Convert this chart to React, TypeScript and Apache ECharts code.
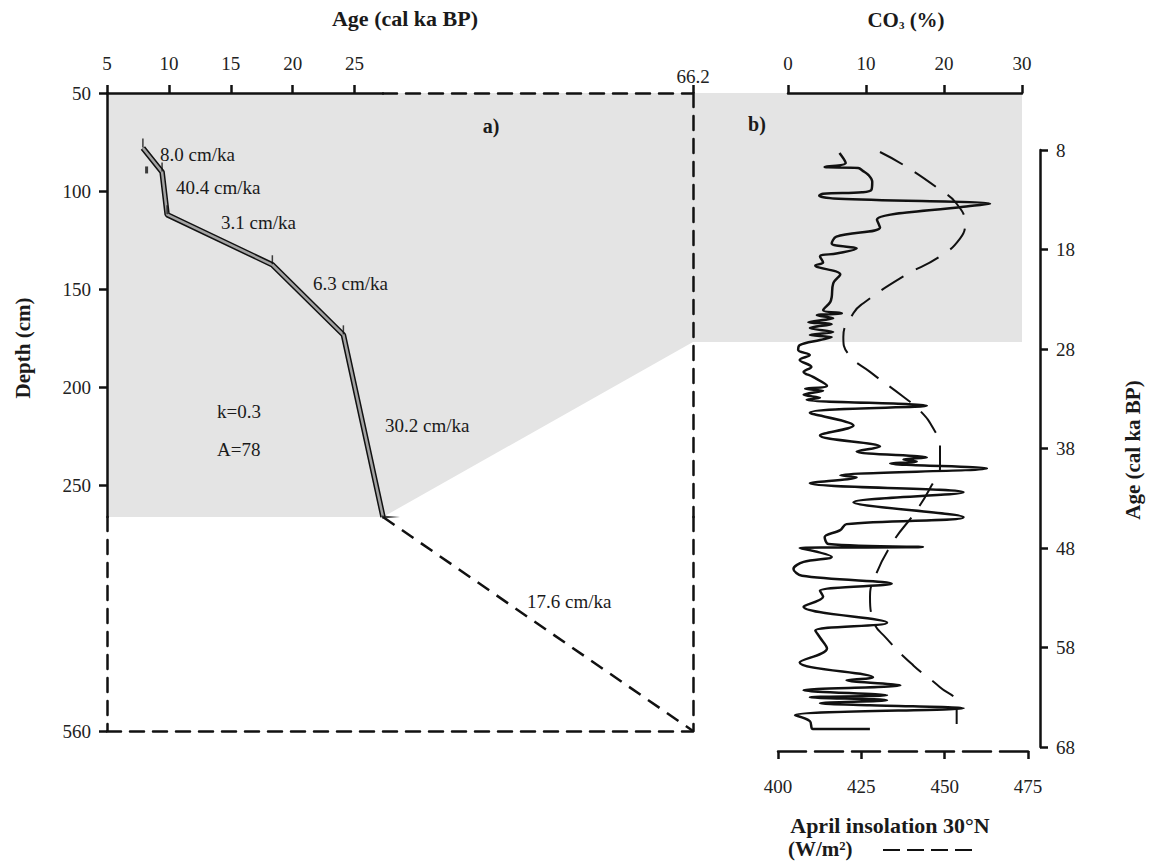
import React, { useEffect, useRef } from "react";
import * as echarts from "echarts";

// ---------- Panel a) age-depth model ----------
const ageTicksA = [5, 10, 15, 20, 25];
const depthTicksA = [50, 100, 150, 200, 250];
const ageMin = 5;
const ageBreak = 27.3;
const ageMax = 66.2;
const ageMaxTicks = [66.2];
const depthMin = 50;
const depthBreak = 266;
const depthMax = 560;
const depthMaxTicks = [560];

const modelAges = [7.9, 9.45, 9.86, 18.36, 24.1, 27.3];
const modelDepths = [78, 90.2, 112, 137.5, 173.2, 266];
const outlierAges = [8.2];
const outlierDepths = [89.2];
const extrapAges = [27.3, 66.2];
const extrapDepths = [266, 560];

const rateLabels = ["8.0 cm/ka", "40.4 cm/ka", "3.1 cm/ka", "6.3 cm/ka", "30.2 cm/ka", "17.6 cm/ka"];
const paramLabels = ["k=0.3", "A=78"];

// ---------- Panel b) CO3 and insolation ----------
const co3Ticks = [0, 10, 20, 30];
const insTicks = [400, 425, 450, 475];
const ageTicksB = [8, 18, 28, 38, 48, 58, 68];
const linkAge = 27.3;

const co3Ages = [
  8.3, 9.3, 9.7, 9.8, 10.1, 10.5, 11.2, 12.0, 12.25, 12.4, 12.6, 12.9, 13.4, 13.7, 15.0, 15.8, 16.7, 17.4, 17.9,
  18.4, 18.7, 19.3, 19.6, 20.5, 21.4, 22.8, 23.3, 24.1, 24.4, 24.6, 24.9, 25.3, 25.5, 25.9, 26.3, 26.6, 26.8,
  27.1, 27.6, 28.1, 28.6, 29.1, 29.8, 30.3, 30.8, 31.7, 32.0, 32.2, 32.6, 32.9, 33.1, 33.7, 34.4, 35.7, 36.7,
  37.8, 38.3, 38.9, 39.1, 39.3, 39.5, 40.0, 40.7, 40.9, 41.5, 42.4, 43.4, 44.9, 45.6, 46.2, 46.9, 47.6, 47.9,
  48.0, 48.9, 49.4, 50.1, 50.8, 51.6, 52.3, 52.9, 53.9, 55.5, 56.3, 57.0, 58.1, 59.5, 61.0, 61.3, 61.8, 62.3,
  62.8, 63.0, 63.3, 63.6, 63.8, 64.1, 64.8, 65.4, 66.2, 66.2,
];
const co3Values = [
  6.6, 7.4, 4.7, 9.0, 9.6, 10.3, 10.8, 10.7, 9.5, 4.5, 4.0, 6.5, 25.9, 22.5, 11.4, 11.8, 6.2, 5.6, 8.8,
  6.2, 4.1, 4.5, 3.5, 6.7, 5.8, 5.6, 5.4, 4.5, 6.9, 3.7, 5.8, 2.6, 5.6, 2.8, 5.8, 2.8, 5.6,
  4.1, 1.5, 1.3, 2.8, 1.5, 3.0, 2.0, 3.2, 5.0, 2.2, 4.5, 2.0, 4.1, 2.4, 17.8, 2.8, 8.4, 4.1,
  11.8, 8.8, 17.8, 14.8, 16.5, 13.1, 25.5, 6.7, 8.8, 2.8, 22.5, 8.4, 22.5, 7.5, 6.7, 4.7, 5.2, 17.3,
  1.5, 5.6, 2.0, 0.7, 1.8, 13.3, 4.1, 4.5, 2.0, 12.7, 3.5, 4.1, 5.0, 1.5, 10.9, 7.5, 14.4, 2.0,
  12.7, 2.8, 12.7, 4.1, 10.5, 22.5, 0.9, 2.8, 3.2, 10.5,
];

const insAges = [
  8.2, 9.6, 12.0, 13.4, 15.4, 16.9, 18.7, 20.7, 23.4, 24.4, 26.8, 28.5, 30.3, 32.8, 34.2, 36.0, 37.8, 39.9,
  41.7, 44.2, 47.6, 51.3, 52.9, 55.3, 57.1, 59.8, 62.0, 63.7, 65.7,
];
const insValues = [
  430.6, 438.1, 448.6, 453.6, 456.1, 454.6, 448.6, 437.6, 425.6, 422.6, 419.6, 421.1, 427.6, 437.6, 442.6,
  446.6, 448.6, 448.6, 446.1, 441.6, 434.1, 428.6, 427.6, 428.6, 432.6, 440.6, 448.6, 453.6, 453.6,
];

const FONT = "'Liberation Serif', 'Times New Roman', serif";
const INK = "#111";
const DASH = [14, 9];

const labelStyle = (margin: number, values: number[]) => ({
  show: true,
  customValues: values,
  margin,
  fontSize: 19,
  fontFamily: FONT,
  color: "#222",
});
const tickStyle = (values: number[], length = 8) => ({
  show: true,
  customValues: values,
  length,
  inside: false,
  lineStyle: { color: INK, width: 2.5 },
});
const noTicks = { show: false };
const noLabels = { show: false };
const solidLine = { show: true, onZero: false, lineStyle: { color: INK, width: 2.5 } };
const dashedLine = (dash: number[] = DASH) => ({
  show: true,
  onZero: false,
  lineStyle: { color: INK, width: 2.5, type: dash },
});
const base = { type: "value", splitLine: { show: false }, scale: true };

export default function App() {
  const ref = useRef<HTMLDivElement>(null);

  useEffect(() => {
    document.body.style.margin = "0";
    const chart = echarts.init(ref.current!, null, { renderer: "svg" });

    const modelData = modelAges.map((a, i) => [a, modelDepths[i]]);

    const option: any = {
      animation: false,
      backgroundColor: "#ffffff",
      textStyle: { fontFamily: FONT },
      grid: [
        { left: 107, top: 93, width: 276, height: 424 }, // A
        { left: 383, top: 93, width: 310, height: 424 }, // B
        { left: 107, top: 517, width: 276, height: 214 }, // C
        { left: 383, top: 517, width: 310, height: 214 }, // D
        { left: 788, top: 150, width: 234, height: 597 }, // E co3
        { left: 778, top: 150, width: 250, height: 597 }, // F insolation
      ],
      xAxis: [
        { ...base, gridIndex: 0, position: "top", min: ageMin, max: ageBreak, axisLine: solidLine, axisTick: tickStyle(ageTicksA), axisLabel: labelStyle(20, ageTicksA) },
        { ...base, gridIndex: 1, position: "top", min: ageBreak, max: ageMax, axisLine: dashedLine(), axisTick: tickStyle(ageMaxTicks), axisLabel: labelStyle(7, ageMaxTicks) },
        { ...base, gridIndex: 2, position: "bottom", min: ageMin, max: ageBreak, axisLine: dashedLine(), axisTick: noTicks, axisLabel: noLabels },
        { ...base, gridIndex: 3, position: "bottom", min: ageBreak, max: ageMax, axisLine: dashedLine(), axisTick: noTicks, axisLabel: noLabels },
        { ...base, gridIndex: 4, position: "top", offset: 57, min: 0, max: 30, axisLine: solidLine, axisTick: tickStyle(co3Ticks), axisLabel: labelStyle(20, co3Ticks) },
        { ...base, gridIndex: 5, position: "bottom", offset: 4, min: 400, max: 475, axisLine: dashedLine([28, 9]), axisTick: tickStyle(insTicks), axisLabel: labelStyle(26, insTicks) },
      ],
      yAxis: [
        { ...base, gridIndex: 0, position: "left", inverse: true, min: depthMin, max: depthBreak, axisLine: solidLine, axisTick: tickStyle(depthTicksA), axisLabel: labelStyle(16, depthTicksA) },
        { ...base, gridIndex: 1, position: "right", inverse: true, min: depthMin, max: depthBreak, axisLine: dashedLine(), axisTick: noTicks, axisLabel: noLabels },
        { ...base, gridIndex: 2, position: "left", inverse: true, min: depthBreak, max: depthMax, axisLine: dashedLine(), axisTick: tickStyle(depthMaxTicks), axisLabel: labelStyle(16, depthMaxTicks) },
        { ...base, gridIndex: 3, position: "right", inverse: true, min: depthBreak, max: depthMax, axisLine: dashedLine(), axisTick: noTicks, axisLabel: noLabels },
        { ...base, gridIndex: 4, position: "right", offset: 18, inverse: true, min: 8, max: 68, axisLine: solidLine, axisTick: tickStyle(ageTicksB), axisLabel: labelStyle(16, ageTicksB) },
        { ...base, gridIndex: 5, position: "right", inverse: true, min: 8, max: 68, show: false },
      ],
      series: [
        {
          type: "line", xAxisIndex: 0, yAxisIndex: 0, showSymbol: false, z: 3,
          data: modelData,
          lineStyle: { color: INK, width: 5.5 },
        },
        {
          type: "line", xAxisIndex: 0, yAxisIndex: 0, showSymbol: false, z: 4,
          data: modelData,
          lineStyle: { color: "#a3a3a3", width: 2.5 },
        },
        {
          // small vertical date spikes at dated levels
          type: "scatter", xAxisIndex: 0, yAxisIndex: 0, z: 5,
          data: modelData.slice(0, 5),
          symbol: "rect", symbolSize: [1.5, 9], symbolOffset: [0, -5],
          itemStyle: { color: INK },
        },
        {
          // horizontal spike at the last dated level
          type: "scatter", xAxisIndex: 0, yAxisIndex: 0, z: 5,
          data: modelData.slice(5),
          symbol: "triangle", symbolRotate: -90, symbolSize: [3, 18], symbolOffset: [8, 0],
          itemStyle: { color: INK },
        },
        {
          type: "scatter", xAxisIndex: 0, yAxisIndex: 0, z: 4,
          data: outlierAges.map((a, i) => [a, outlierDepths[i]]),
          symbol: "rect", symbolSize: [3, 7], itemStyle: { color: INK },
        },
        {
          type: "line", xAxisIndex: 3, yAxisIndex: 3, showSymbol: false, z: 3,
          data: extrapAges.map((a, i) => [a, extrapDepths[i]]),
          lineStyle: { color: INK, width: 2.5, type: DASH },
        },
        {
          type: "line", xAxisIndex: 4, yAxisIndex: 4, showSymbol: false, z: 3, smooth: 0.35,
          data: co3Ages.map((a, i) => [co3Values[i], a]),
          lineStyle: { color: INK, width: 2.5 },
        },
        {
          type: "line", xAxisIndex: 5, yAxisIndex: 5, showSymbol: false, z: 3, smooth: true,
          data: insAges.map((a, i) => [insValues[i], a]),
          lineStyle: { color: INK, width: 2, type: [26, 14] },
        },
      ],
    };
    chart.setOption(option);

    const pA = (a: number, d: number) => chart.convertToPixel({ gridIndex: 0 }, [a, d]) as number[];
    const pB = (a: number, d: number) => chart.convertToPixel({ gridIndex: 1 }, [a, d]) as number[];
    const pE = (c: number, a: number) => chart.convertToPixel({ gridIndex: 4 }, [c, a]) as number[];

    const topLeft = pA(ageMin, depthMin);
    const rightTopX = pE(30, linkAge)[0];
    const linkY = pE(30, linkAge)[1];
    const rightDashX = pB(ageMax, depthMin)[0];
    const breakPt = pB(ageBreak, depthBreak);
    const bottomLeft = pA(ageMin, depthBreak);

    const txt = (text: string, x: number, y: number, opts: any = {}) => ({
      type: "text",
      x,
      y,
      rotation: opts.rotation || 0,
      z: 10,
      style: {
        text,
        fill: "#1a1a1a",
        fontFamily: FONT,
        fontSize: opts.size || 19,
        fontWeight: opts.bold ? "bold" : "normal",
        align: opts.align || "left",
        verticalAlign: "middle",
        rich: opts.rich,
      },
    });

    chart.setOption({
      graphic: {
        elements: [
          {
            type: "polygon",
            z: -1,
            shape: {
              points: [
                topLeft,
                [rightTopX, topLeft[1]],
                [rightTopX, linkY],
                [rightDashX, linkY],
                breakPt,
                bottomLeft,
              ],
            },
            style: { fill: "#e4e4e4" },
          },
          txt("Age (cal ka BP)", 405, 18, { bold: true, size: 22, align: "center" }),
          txt("{a|CO}{s|3}{a| (%)}", 906, 20, {
            align: "center",
            rich: {
              a: { fontFamily: FONT, fontWeight: "bold", fontSize: 21, fill: "#1a1a1a" },
              s: { fontFamily: FONT, fontWeight: "bold", fontSize: 11, fill: "#1a1a1a", padding: [10, 0, 0, 0] },
            },
          }),
          txt("Depth (cm)", 23, 348, { bold: true, size: 21, align: "center", rotation: Math.PI / 2 }),
          txt("Age (cal ka BP)", 1133, 450, { bold: true, size: 21, align: "center", rotation: Math.PI / 2 }),
          txt("a)", 491, 126, { bold: true, size: 20, align: "center" }),
          txt("b)", 757, 124, { bold: true, size: 20, align: "center" }),
          txt(rateLabels[0], 160, 154),
          txt(rateLabels[1], 176, 187),
          txt(rateLabels[2], 221, 222),
          txt(rateLabels[3], 313, 283),
          txt(rateLabels[4], 385, 425),
          txt(rateLabels[5], 527, 601),
          txt(paramLabels[0], 217, 411),
          txt(paramLabels[1], 217, 449),
          txt("April insolation 30°N", 890, 825, { bold: true, size: 22, align: "center" }),
          txt("(W/m²)", 788, 849, { bold: true, size: 21 }),
          {
            type: "line",
            z: 10,
            shape: { x1: 883, y1: 850, x2: 973, y2: 850 },
            style: { stroke: INK, lineWidth: 2, lineDash: [17, 7] },
          },
        ],
      },
    });

    return () => chart.dispose();
  }, []);

  return <div ref={ref} style={{ width: 1150, height: 864 }} />;
}
